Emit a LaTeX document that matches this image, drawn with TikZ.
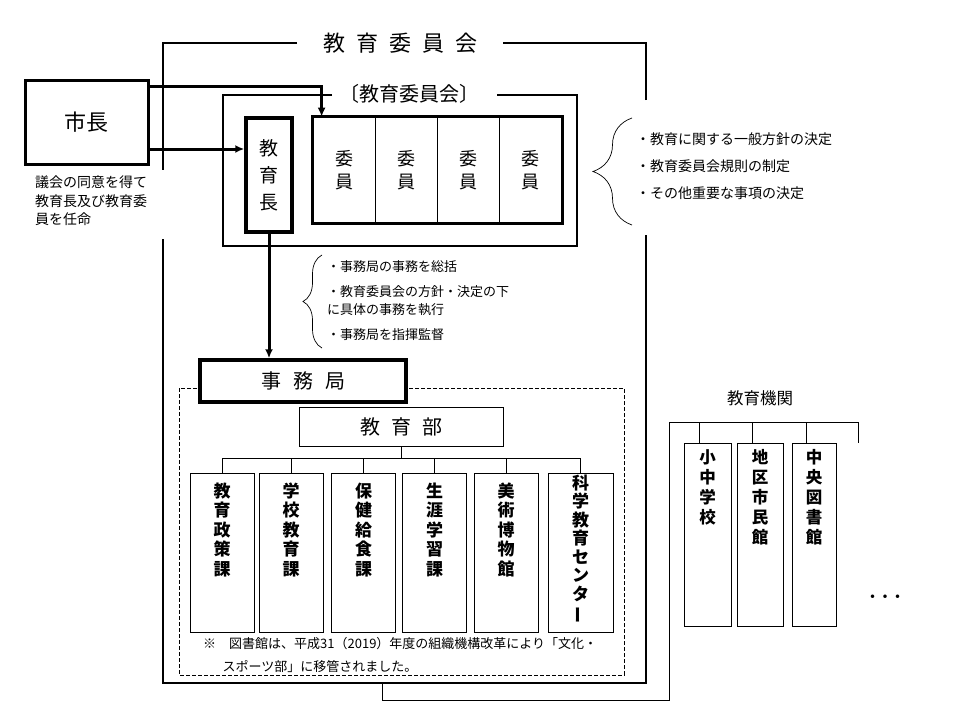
\documentclass[tikz,border=0pt]{standalone}
\usepackage{fontspec}
\setmainfont{Noto Sans CJK JP}
\usetikzlibrary{arrows.meta,positioning,calc,decorations.pathreplacing}
\tikzset{
  >={Latex[length=9pt,width=8pt]},
  every node/.style={text=black,inner sep=0pt},
  heavybox/.style={draw,line width=3pt,fill=white,align=center},
  cell/.style={draw,line width=0.7pt,minimum width=62.25pt,minimum height=106pt,align=center,font=\fontsize{18}{23}\selectfont},
  secbox/.style={draw,line width=0.8pt,minimum width=64pt,minimum height=159pt},
  sectext/.style={align=center,anchor=north,font=\fontsize{17}{19.5}\selectfont\bfseries},
  kikanbox/.style={draw,line width=0.8pt,minimum height=183pt},
  kikantext/.style={align=center,anchor=north,font=\fontsize{16.5}{20}\selectfont\bfseries},
  memo/.style={align=left,anchor=north west},
  frame/.style={line width=2.5pt},
  arrow/.style={->,line width=3pt},
  link/.style={line width=0.8pt},
  brc/.style={decorate,line width=0.7pt},
}

\begin{document}
\begin{tikzpicture}[x=1pt,y=-1pt]
  \useasboundingbox (0,0) rectangle (960,720);

  % 教育委員会（全体）
  \draw[frame] (297,43) -| (163,170) (163,239) |- (646,683) -- (646,235) (646,100) |- (503,43);
  \node[font=\fontsize{22}{22}\selectfont] (title) at (400,43) {教\hspace{11pt}育\hspace{11pt}委\hspace{11pt}員\hspace{11pt}会};

  % 〔教育委員会〕
  \draw[line width=2pt] (332,95) -| (223,246) -| (577,95) -- (497,95);
  \node[font=\fontsize{20}{20}\selectfont] (board) at (409,94) {〔教育委員会〕};

  \node[heavybox,minimum width=123pt,minimum height=84pt,font=\fontsize{22}{22}\selectfont] (mayor) at (86.5,122) {市長};
  \node[memo,font=\fontsize{14}{18.5}\selectfont] (appoint) at (35,176) {議会の同意を得て\\教育長及び教育委\\員を任命};

  \node[heavybox,line width=3.5pt,minimum width=46pt,minimum height=114pt,font=\fontsize{19}{27}\selectfont] (supt) at (269,175) {教\\育\\長};

  \foreach \i/\x in {1/344.1,2/406.4,3/468.6,4/530.9}
    \node[cell] (member\i) at (\x,170) {委\\員};
  \draw[line width=3pt] (member1.north west) rectangle (member4.south east);

  \draw[arrow] ([yshift=-8pt]mayor.north east) -| ([xshift=9pt]member1.north west);
  \draw[arrow] ([yshift=-27pt]mayor.east) -- ([yshift=-27pt]mayor.east -| supt.west);

  \draw[brc,decoration={brace,amplitude=39pt}] (632,225) -- (632,118);
  \node[memo,font=\fontsize{14}{27}\selectfont] (duties) at (636,132) {・教育に関する一般方針の決定\\・教育委員会規則の制定\\・その他重要な事項の決定};

  % 事務局
  \draw[link,dash pattern=on 4pt off 2pt] (179,388) rectangle (624,675);
  \node[heavybox,line width=3.5pt,minimum width=206pt,minimum height=42pt,font=\fontsize{20}{20}\selectfont] (office) at (303,381) {事\hspace{12pt}務\hspace{12pt}局};
  \draw[arrow] (supt.south) -- (supt.south |- office.north);

  \draw[brc,decoration={brace,amplitude=19pt}] (322,348) -- (322,255);
  \node[memo,font=\fontsize{13}{18}\selectfont] (tasks) at (327,260) {・事務局の事務を総括\\[7pt]・教育委員会の方針・決定の下\\に具体の事務を執行\\[7pt]・事務局を指揮監督};

  \node[draw,link,minimum width=204pt,minimum height=39pt,font=\fontsize{20}{20}\selectfont] (dept) at (401,426.5) {教\hspace{11pt}育\hspace{11pt}部};

  \foreach \n/\x/\t in {1/222/{教\\育\\政\\策\\課},2/291/{学\\校\\教\\育\\課},3/363.5/{保\\健\\給\\食\\課},4/434.5/{生\\涯\\学\\習\\課},5/506/{美\\術\\博\\物\\館}}
  {
    \node[secbox] (sec\n) at (\x,552.5) {};
    \node[sectext] (sec\n-t) at ([yshift=-10pt]sec\n.north) {\t};
    \draw[link] (dept.south) -- ++(0,12) -| (sec\n.north);
  }
  \node[secbox,minimum width=65pt] (sec6) at (580.5,552.5) {};
  \node[sectext,font=\fontsize{17}{18.5}\selectfont\bfseries] (sec6-t) at ([yshift=-2pt]sec6.north) {科\\学\\教\\育\\セ\\ン\\タ\\\rotatebox[origin=c]{90}{ー}};
  \draw[link] (dept.south) -- ++(0,12) -| (sec6.north);

  \node[memo,font=\fontsize{13}{23}\selectfont] (note) at (203,637) {※\hspace{1em}図書館は、平成31（2019）年度の組織機構改革により「文化・\\\hspace{1.5em}スポーツ部」に移管されました。};

  % 教育機関
  \node[font=\fontsize{16.5}{16.5}\selectfont] (inst) at (760,398) {教育機関};
  \coordinate (drop) at (382,683);
  \coordinate (branch) at (669,422);
  \coordinate (more) at (858,443);
  \draw[link] (drop) -- ++(0,17) -| (branch) -| (more);
  \foreach \n/\x/\w/\t in {school/707.5/47/{小\\中\\学\\校},hall/760/46/{地\\区\\市\\民\\館},library/814/44/{中\\央\\図\\書\\館}}
  {
    \node[kikanbox,minimum width=\w pt] (\n) at (\x,534.5) {};
    \node[kikantext] (\n-t) at ([yshift=-7pt]\n.north) {\t};
    \draw[link] ([xshift=-8pt]\n.north) |- (branch);
  }
  \node[font=\fontsize{12.5}{12.5}\selectfont\bfseries] (etc) at (885,598) {・・・};
\end{tikzpicture}
\end{document}
